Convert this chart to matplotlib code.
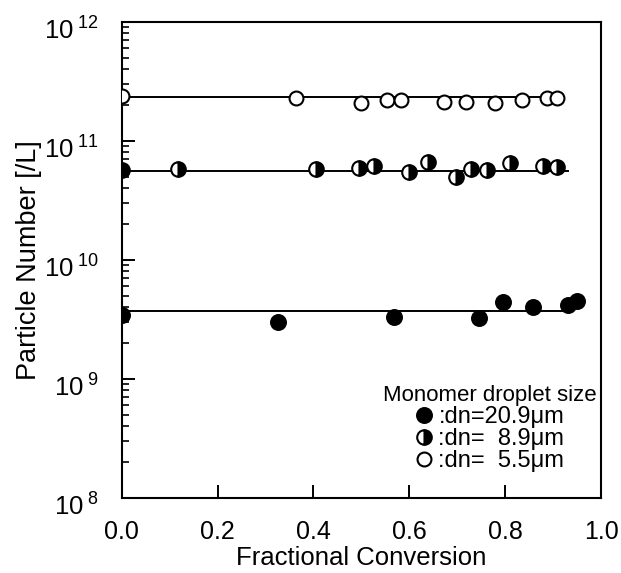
import math
import matplotlib
matplotlib.use("Agg")
import matplotlib.pyplot as plt
import matplotlib.transforms as mtransforms
from matplotlib.ticker import FixedLocator, LogLocator, NullFormatter, FuncFormatter

plt.rcParams['font.family'] = ['Liberation Sans', 'DejaVu Sans']
plt.rcParams['mathtext.fontset'] = 'custom'
plt.rcParams['mathtext.rm'] = 'Liberation Sans'
plt.rcParams['mathtext.it'] = 'Liberation Sans:italic'

# ---- data ----
big_x = [0.0, 0.327, 0.568, 0.746, 0.795, 0.857, 0.931, 0.950]
big_y = [3.45e9, 3.01e9, 3.32e9, 3.26e9, 4.44e9, 4.03e9, 4.19e9, 4.52e9]

mid_x = [0.0, 0.117, 0.405, 0.495, 0.526, 0.600, 0.638, 0.698, 0.729, 0.761, 0.809, 0.878, 0.908]
mid_y = [5.71e10, 5.82e10, 5.82e10, 5.93e10, 6.16e10, 5.49e10, 6.66e10, 4.98e10,
         5.82e10, 5.71e10, 6.54e10, 6.16e10, 6.05e10]

small_x = [0.0, 0.363, 0.499, 0.553, 0.583, 0.673, 0.719, 0.778, 0.834, 0.887, 0.908]
small_y = [2.40e11, 2.30e11, 2.09e11, 2.20e11, 2.20e11, 2.10e11, 2.10e11, 2.09e11,
           2.20e11, 2.30e11, 2.30e11]

big_fit_x = [0.0, 0.935]
big_fit_y = [3.75e9, 3.75e9]
mid_fit_x = [0.0, 0.93]
mid_fit_y = [5.6e10, 5.6e10]
small_fit_x = [0.0, 0.90]
small_fit_y = [2.32e11, 2.32e11]

labels = [":dn=20.9\u03bcm", ":dn=  8.9\u03bcm", ":dn=  5.5\u03bcm"]
legend_title = "Monomer droplet size"
x_ticks = [0.0, 0.2, 0.4, 0.6, 0.8, 1.0]
y_ticks = [1e8, 1e9, 1e10, 1e11, 1e12]

fig = plt.figure(figsize=(6.21, 5.73), dpi=100)
ax = fig.add_axes([0.196, 0.131, 0.772, 0.831])

lw = 1.4
ax.plot(big_fit_x, big_fit_y, color='black', lw=lw, zorder=2)
ax.plot(mid_fit_x, mid_fit_y, color='black', lw=lw, zorder=2)
ax.plot(small_fit_x, small_fit_y, color='black', lw=lw, zorder=2)

h1, = ax.plot(big_x, big_y, linestyle='none', marker='o', ms=11, mfc='black',
              mec='black', mew=1.2, zorder=3, label=labels[0])
h2, = ax.plot(mid_x, mid_y, linestyle='none', marker='o', ms=10.5, fillstyle='right',
              mfc='black', mfcalt='white', mec='black', mew=1.5, zorder=3, label=labels[1])
h3, = ax.plot(small_x, small_y, linestyle='none', marker='o', ms=10, mfc='white',
              mec='black', mew=1.5, zorder=3, label=labels[2])

ax.set_yscale('log')
ax.set_xlim(0, 1.0)
ax.set_ylim(1e8, 1e12)

ax.xaxis.set_major_locator(FixedLocator(x_ticks))
ax.xaxis.set_major_formatter(FuncFormatter(lambda v, p: f"{v:.1f}"))
ax.yaxis.set_major_locator(FixedLocator(y_ticks))
ax.yaxis.set_minor_locator(LogLocator(base=10, subs=range(2, 10), numticks=50))
ax.yaxis.set_minor_formatter(NullFormatter())

def yfmt(v, p):
    e = int(round(math.log10(v)))
    return r"$\mathregular{10^{\ %d}}$" % e
ax.yaxis.set_major_formatter(FuncFormatter(yfmt))

ax.tick_params(axis='both', which='major', direction='in', length=9.5, width=1.4)
ax.tick_params(axis='y', which='minor', direction='in', length=5, width=1.2)
ax.tick_params(axis='x', which='major', labelsize=18, pad=16)
ax.tick_params(axis='y', which='major', labelsize=18.5, pad=16)
for s in ax.spines.values():
    s.set_linewidth(1.5)

offset = mtransforms.ScaledTranslation(0, -5 / 72, fig.dpi_scale_trans)
for lab in ax.get_yticklabels():
    lab.set_transform(lab.get_transform() + offset)

ax.set_xlabel("Fractional Conversion", fontsize=18.5, labelpad=1)
ax.set_ylabel("Particle Number [/L]", fontsize=19.5)
ax.yaxis.set_label_coords(-0.167, 0.5)

leg = ax.legend(handles=[h1, h2, h3], title=legend_title, loc='lower right',
                bbox_to_anchor=(1.0, 0.045), frameon=False, fontsize=17,
                title_fontsize=16, handlelength=0.8, handletextpad=0.2,
                labelspacing=0.0, borderaxespad=0.0, borderpad=0.2)

fig.savefig("out.png", dpi=100)
